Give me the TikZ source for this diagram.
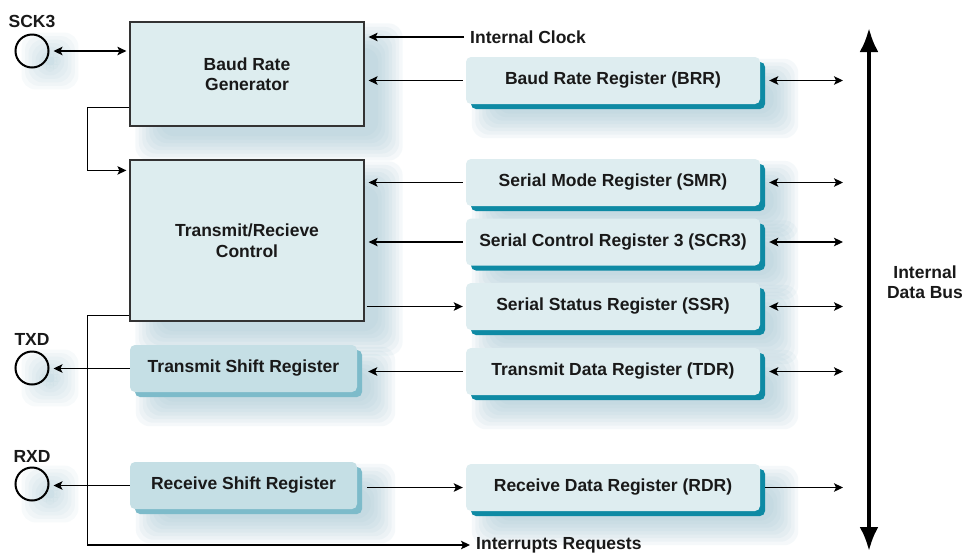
\documentclass[tikz,border=0pt]{standalone}
\usepackage{fontspec}
\setmainfont{Liberation Sans}
\usetikzlibrary{arrows.meta,shadows,calc,backgrounds}

\definecolor{blockfill}{HTML}{DDEDEF}
\definecolor{regfill}{HTML}{DEEDF0}
\definecolor{regshade}{HTML}{0E8AA4}
\definecolor{shiftfill}{HTML}{C5DFE5}
\definecolor{shiftshade}{HTML}{7DBBCA}
\definecolor{hazecol}{HTML}{9FC4D2}

% soft bluish haze offset behind a node
\newcommand\hazeof[4]{%
  \foreach \k in {0,...,7}{%
    \fill[hazecol, opacity=#4, rounded corners=14pt]
      ($(#1.north west)+(#2-16+\k*3.5, #3-16+\k*3.5)$) rectangle
      ($(#1.south east)+(#2+16-\k*3.5, #3+16-\k*3.5)$);
  }}

\begin{document}
\begin{tikzpicture}[x=1pt, y=-1pt,
  lbl/.style={font=\fontsize{17.5}{20.5}\selectfont\bfseries, text=black!90, inner sep=0pt},
  block/.style={lbl, draw=black!80, line width=1.2pt, fill=blockfill, align=center},
  regbox/.style={lbl, fill=regfill, rounded corners=5pt, minimum width=294pt, minimum height=47pt,
    drop shadow={shadow xshift=5pt, shadow yshift=-5pt, fill=regshade, opacity=1}},
  shiftbox/.style={lbl, fill=shiftfill, rounded corners=5pt, minimum width=227pt, minimum height=47pt,
    drop shadow={shadow xshift=5pt, shadow yshift=-5pt, fill=shiftshade, opacity=1}},
  pin/.style={circle, draw=black, line width=2pt, minimum size=33pt, inner sep=0pt},
  arr/.style={line width=1.2pt, -{Stealth[length=9pt, width=8.5pt, inset=2pt]}},
  darr/.style={line width=1.2pt, {Stealth[length=9pt, width=8.5pt, inset=2pt]}-{Stealth[length=9pt, width=8.5pt, inset=2pt]}},
  bus/.style={line width=4pt, {Latex[length=24pt, width=19pt]}-{Latex[length=24pt, width=19pt]}}
]
\useasboundingbox (0,0) rectangle (963,558);

% functional blocks
\node[block, minimum width=234pt, minimum height=104pt] (brg) at (247,74) {Baud Rate\\Generator};
\node[block, minimum width=234pt, minimum height=161pt] (ctrl) at (247,240.5) {Transmit/Recieve\\Control};

% registers
\node[regbox] (brr)  at (613,80.5)  {Baud Rate Register (BRR)};
\node[regbox] (smr)  at (613,182.5) {Serial Mode Register (SMR)};
\node[regbox] (scr)  at (613,242)   {Serial Control Register 3 (SCR3)};
\node[regbox] (ssr)  at (613,306.5) {Serial Status Register (SSR)};
\node[regbox] (tdr)  at (613,371.5) {Transmit Data Register (TDR)};
\node[regbox] (rdr)  at (613,487.5) {Receive Data Register (RDR)};

\node[shiftbox] (tsr) at (243.5,368.5) {Transmit Shift Register};
\node[shiftbox] (rsr) at (243.5,485.5) {Receive Shift Register};

% pins
\node[pin] (sck) at (32,51) {};
\node[pin] (txd) at (32,368) {};
\node[pin] (rxd) at (32,484) {};
\node[lbl] (scklbl) at (32,21)  {SCK3};
\node[lbl] (txdlbl) at (32,339) {TXD};
\node[lbl] (rxdlbl) at (32,456) {RXD};

% side labels
\node[lbl, anchor=west] (clk) at (470,37)  {Internal Clock};
\node[lbl, anchor=west] (irq) at (476,545) {Interrupts Requests};
\node[lbl, align=center] (buslbl) at (925,282) {Internal\\Data Bus};

% internal data bus
\coordinate (bustop) at (869,28);
\coordinate (busbot) at (869,551);
\coordinate (busin)  at (843,0);
\draw[bus] (busbot) -- (bustop);

% connections
\draw[darr, shorten <=4pt, shorten >=3pt] (sck) -- (sck -| brg.west);
\draw[arr, shorten >=3pt] ($(brg.south west)+(0,-19)$) -- ++(-42,0) |- ($(ctrl.north west)+(0,11)$);
\draw[arr, shorten >=4pt] ([xshift=-6pt]clk.west) -- (clk.west -| brg.east);
\draw[arr, shorten >=4pt] ([xshift=-3pt]brr.west) -- (brr.west -| brg.east);
\draw[arr, shorten >=4pt] ([xshift=-3pt]smr.west) -- (smr.west -| ctrl.east);
\draw[arr, shorten >=4pt] ([xshift=-3pt]scr.west) -- (scr.west -| ctrl.east);
\draw[arr, shorten <=2pt, shorten >=3pt] (ssr.west -| ctrl.east) -- (ssr.west);
\draw[arr, shorten <=3pt, shorten >=11pt] (tdr.west) -- (tdr.west -| tsr.east);
\draw[arr, shorten <=10pt, shorten >=3pt] (rdr.west -| rsr.east) -- (rdr.west);
\draw[arr, shorten >=4pt] (tsr.west) -- (tsr.west -| txd.east);
\draw[arr, shorten >=4pt] (rsr.west) -- (rsr.west -| rxd.east);
\draw[arr, shorten >=6pt] ($(ctrl.south west)+(0,-6)$) -- ++(-42,0) |- (irq.west);

\draw[darr, shorten <=9pt] (brr.east) -- (brr.east -| busin);
\draw[darr, shorten <=9pt] (smr.east) -- (smr.east -| busin);
\draw[darr, shorten <=9pt] (scr.east) -- (scr.east -| busin);
\draw[darr, shorten <=9pt] (ssr.east) -- (ssr.east -| busin);
\draw[darr, shorten <=9pt] (tdr.east) -- (tdr.east -| busin);
\draw[arr, shorten <=5pt] (rdr.east) -- (rdr.east -| busin);

% background haze
\begin{scope}[on background layer]
  \fill[white] (0,0) rectangle (963,558);
  \hazeof{brg}{22}{18}{0.1}
  \hazeof{ctrl}{22}{18}{0.1}
  \foreach \n in {brr,smr,scr,ssr,tdr,rdr,tsr,rsr}{\hazeof{\n}{22}{18}{0.1}}
  \foreach \n in {sck,txd,rxd}{\hazeof{\n}{18}{10}{0.08}}
\end{scope}
\end{tikzpicture}
\end{document}
